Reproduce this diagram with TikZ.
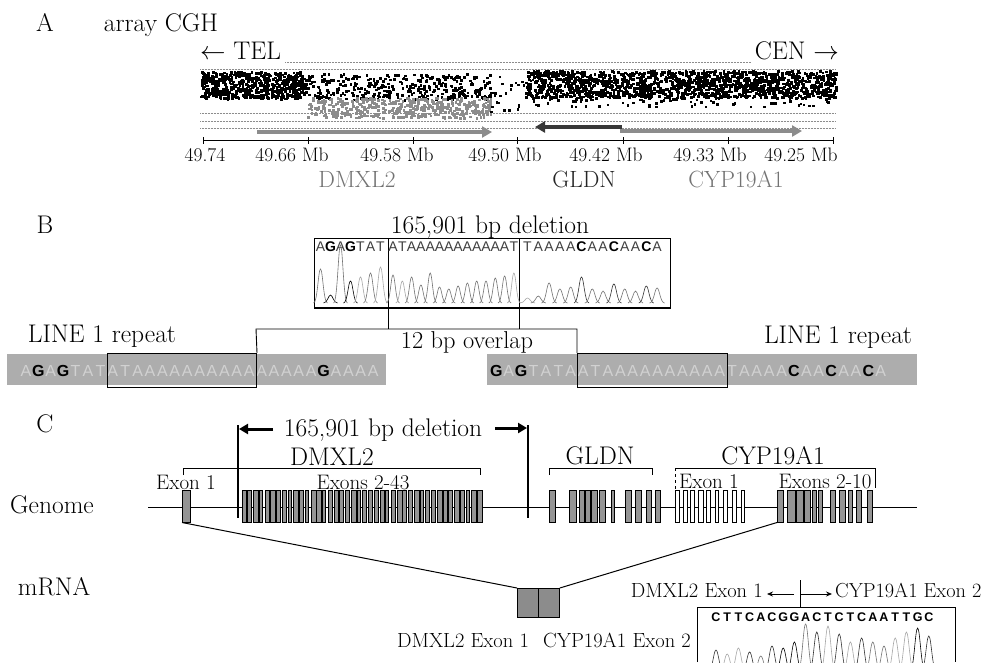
\RequirePackage{fix-cm}
\documentclass[tikz,border=0pt]{standalone}
\usepackage{fontspec}
\setsansfont{Liberation Sans}
\usetikzlibrary{arrows.meta}
\newcommand\fsz[1]{\fontsize{#1}{#1}\selectfont}
\newcommand\seqbf[1]{\ifcsname boldnuc#1\endcsname\bfseries\fi}
\expandafter\def\csname boldnucG\endcsname{}
\expandafter\def\csname boldnucC\endcsname{}
\colorlet{boxA}{black!75}\colorlet{boxT}{black!75}\colorlet{boxG}{black}\colorlet{boxC}{black}
\colorlet{barA}{black!18}\colorlet{barT}{black!18}\colorlet{barG}{black}\colorlet{barC}{black}
\colorlet{pkA}{black!55}\colorlet{pkT}{black!35}\colorlet{pkG}{black}\colorlet{pkC}{black!80}
\begin{document}
\begin{tikzpicture}[x=1pt,y=-1pt,
 txt/.style={inner sep=0pt, anchor=base},
 big/.style={txt, font=\fsz{25.5}},
 gname/.style={txt, font=\fsz{23.5}},
 ticklbl/.style={txt, font=\fsz{19.5}},
 exlbl/.style={txt, font=\fsz{21}},
 gridl/.style={draw=black!45, line width=0.5pt, densely dotted},
 genearrow/.style={line width=3.6pt, -{Triangle[length=10pt,width=11pt]}},
 seqboxtxt/.style={txt, font=\sffamily\fsz{14}},
 seqbartxt/.style={txt, font=\sffamily\fsz{16}},
 seqcrtxt/.style={txt, font=\sffamily\bfseries\fsz{12.5}},
 seqbarbg/.style={fill=black!32, draw=none, inner sep=0pt, minimum height=31pt, anchor=north west},
 ovbox/.style={draw=black, line width=1pt, inner sep=0pt, minimum height=34pt, anchor=north west},
 boxframe/.style={draw=black, line width=1pt, inner sep=0pt, anchor=north west},
 brk/.style={line width=0.8pt},
 exon/.style={draw=black, fill=black!42, line width=0.5pt},
 exonw/.style={draw=black, fill=white, line width=0.6pt},
 exnode/.style={exon, inner sep=0pt, minimum height=32pt, anchor=north west},
 delline/.style={line width=2.4pt},
 delarrow/.style={line width=3pt, -{Triangle[length=9pt,width=10pt]}},
 conn/.style={line width=1pt},
 smallarr/.style={line width=0.8pt, -{Stealth[length=6pt,width=5pt]}},
 peak/.style={line width=0.6pt},
]
\useasboundingbox (0,0) rectangle (985,662);
\fill[white] (0,0) rectangle (985,662);

% ================= Panel A =================
\node[big] (labA) at (45,31) {A};
\node[big] (cgh) at (161,31) {array CGH};
\node[big, anchor=base west] (tel) at (200,59) {$\leftarrow$ TEL};
\node[big, anchor=base east] (cen) at (839,59) {CEN $\rightarrow$};
\draw[gridl] (tel.base east) ++(4,3) -- ([xshift=-4pt,yshift=-3pt]cen.base west);
\foreach \yy in {69,113,121,128} \draw[gridl] (200,\yy) -- (836,\yy);

\pgfmathsetseed{4711}
\foreach \i in {1,...,560} \fill[black] ({200+105*rnd},{71+27*rnd}) rectangle +(2.7,2.7);
\foreach \i in {1,...,340} \fill[black] ({305+185*rnd},{73+26*rnd}) rectangle +(2.7,2.7);
\foreach \i in {1,...,430} \fill[black!45] ({307+183*rnd},{97+20*rnd}) rectangle +(2.7,2.7);
\foreach \i in {1,...,22} \fill[black] ({490+35*rnd},{72+40*rnd}) rectangle +(2.5,2.5);
\foreach \i in {1,...,1500} \fill[black] ({525+311*rnd},{70+27*rnd}) rectangle +(2.7,2.7);
\foreach \i in {1,...,80} \fill[black] ({525+311*rnd},{96+10*rnd}) rectangle +(2.5,2.5);

\coordinate (axL) at (203,140); \coordinate (axR) at (833,140);
\draw[line width=1pt] (axL) -- (axR);
\foreach \xx in {203,308,413,517,623,728,833} \draw[line width=0.8pt] (\xx,137) -- (\xx,144);
\foreach \xx/\lab [count=\i] in {205/49.74, 292/49.66 Mb, 397/49.58 Mb, 505/49.50 Mb, 606/49.42 Mb, 710/49.33 Mb, 801/49.25 Mb}
  \node[ticklbl] (tk\i) at (\xx,161) {\lab};

\coordinate (dA1) at (257,132); \coordinate (dA2) at (492,132);
\coordinate (gA1) at (622,127); \coordinate (gA2) at (535,127);
\coordinate (cA1) at (620,131); \coordinate (cA2) at (802,131);
\draw[genearrow, draw=black!45] (dA1) -- (dA2);
\draw[genearrow, draw=black!78, line width=4.5pt] (gA1) -- (gA2);
\draw[genearrow, draw=black!45] (cA1) -- (cA2);
\node[gname, text=black!55] (gnD) at (357,187) {DMXL2};
\node[gname, text=black!85] (gnG) at (584,187) {GLDN};
\node[gname, text=black!55] (gnC) at (736,187) {CYP19A1};

% ================= Panel B =================
\node[big] (labB) at (45,233) {B};
\node[big] (delB) at (490,233) {165,901 bp deletion};
\node[boxframe, minimum width=356pt, minimum height=69pt] (chromB) at (314,238) {};
\draw[line width=2pt] (chromB.south west) -- (chromB.south east);
\coordinate (d1t) at (388,238); \coordinate (d1b) at (388,329);
\coordinate (d2t) at (519,238); \coordinate (d2b) at (519,329);
\draw[line width=0.9pt] (d1t) -- (d1b);
\draw[line width=0.9pt] (d2t) -- (d2b);

% sequence + peaks in the box
\foreach \nuc/\pkh [count=\i] in {A/34,G/8,A/58,G/22,T/26,A/30,T/36} {
  \pgfmathsetmacro\px{320.5+10*(\i-1)}
  \node[seqboxtxt, text=box\nuc] (sa\i) at (\px,251) {\seqbf{\nuc}\nuc};
  \draw[peak, draw=pk\nuc] ({\px-7},303) .. controls ({\px-3},303) and ({\px-2.2},{303-\pkh}) .. ({\px},{303-\pkh}) .. controls ({\px+2.2},{303-\pkh}) and ({\px+3},303) .. ({\px+7},303);
}
\foreach \nuc/\pkh [count=\i] in {A/28,T/22,A/26,A/18,A/30,A/16,A/14,A/17,A/20,A/22,A/22,A/25,A/27,T/30} {
  \pgfmathsetmacro\px{393+9.3*(\i-1)}
  \node[seqboxtxt, text=box\nuc] (sb\i) at (\px,251) {\seqbf{\nuc}\nuc};
  \draw[peak, draw=pk\nuc] ({\px-6.5},303) .. controls ({\px-2.8},303) and ({\px-2},{303-\pkh}) .. ({\px},{303-\pkh}) .. controls ({\px+2},{303-\pkh}) and ({\px+2.8},303) .. ({\px+6.5},303);
}
\foreach \nuc/\pkh [count=\i] in {T/5,A/7,A/20,A/14,A/16,C/26,A/14,A/12,C/19,A/14,A/12,C/17,A/15} {
  \pgfmathsetmacro\px{527.5+10.8*(\i-1)}
  \node[seqboxtxt, text=box\nuc] (sc\i) at (\px,251) {\seqbf{\nuc}\nuc};
  \draw[peak, draw=pk\nuc] ({\px-7.5},303) .. controls ({\px-3.2},303) and ({\px-2.3},{303-\pkh}) .. ({\px},{303-\pkh}) .. controls ({\px+2.3},{303-\pkh}) and ({\px+3.2},303) .. ({\px+7.5},303);
}

\node[big] (lineL) at (102,342) {LINE 1 repeat};
\node[big] (lineR) at (838,343) {LINE 1 repeat};
\node[txt, font=\fsz{24.4}] (ovl) at (467,348) {12 bp overlap};

\node[seqbarbg, minimum width=379pt] (barL) at (7,354) {};
\node[seqbarbg, minimum width=430pt] (barR) at (487,354) {};
\foreach \nuc [count=\i] in {A,G,A,G,T,A,T,A,T,A,A,A,A,A,A,A,A,A,A,A,A,A,A,A,G,A,A,A,A}
  \node[seqbartxt, text=bar\nuc] (ql\i) at ({26+12.4*(\i-1)},376) {\seqbf{\nuc}\nuc};
\foreach \nuc [count=\i] in {G,A,G,T,A,T,A,A,T,A,A,A,A,A,A,A,A,A,A,T,A,A,A,A,C,A,A,C,A,A,C,A}
  \node[seqbartxt, text=bar\nuc] (qr\i) at ({496.4+12.4*(\i-1)},376) {\seqbf{\nuc}\nuc};
\node[ovbox, minimum width=149pt] (ovL) at (107,353) {};
\node[ovbox, minimum width=150pt] (ovR) at (577,353) {};
\coordinate (hl) at (256,329); \coordinate (hr) at (577,329);
\draw[line width=0.9pt] (ovL.north east) -- (hl) -- (hr) -- (ovR.north west);

% ================= Panel C =================
\node[big] (labC) at (45,432) {C};
\node[big] (delC) at (383,436) {165,901 bp deletion};
\coordinate (vlT) at (238,425); \coordinate (vlB) at (238,518);
\coordinate (vrT) at (528,425); \coordinate (vrB) at (528,518);
\draw[delline] (vlT) -- (vlB);
\draw[delline] (vrT) -- (vrB);
\coordinate (alS) at (273,429); \coordinate (alE) at (239,429);
\coordinate (arS) at (495,428); \coordinate (arE) at (527,428);
\draw[delarrow] (alS) -- (alE);
\draw[delarrow] (arS) -- (arE);

\node[big] (gD) at (332,465) {DMXL2};
\node[big] (gG) at (600,464) {GLDN};
\node[big] (gC) at (773,464) {CYP19A1};
\draw[brk] (183,475) -- (183,468) -- (480,468) -- (480,475);
\draw[brk] (549,475) -- (549,468) -- (652,468) -- (652,475);
\draw[brk] (675,468) -- (875,468) -- (875,488);
\draw[brk, dashed] (675,468) -- (675,490);
\node[exlbl] (ex1D) at (186,489) {Exon 1};
\node[exlbl] (ex2D) at (363,489) {Exons 2-43};
\node[exlbl] (ex1C) at (709,488) {Exon 1};
\node[exlbl] (ex2C) at (825,488) {Exons 2-10};

\node[big] (genome) at (52,513) {Genome};
\node[big] (mrna) at (54,595) {mRNA};

\draw[line width=0.8pt] (148,507) -- (917,507);
\node[exnode, minimum width=8pt] (dex1) at (182,490) {};
\foreach \w [count=\i] in {4.2,3.4,4.6,3.2,4.0,5.0,3.6,4.2,3.0,4.6,4.0,3.4,5.0,4.2,3.2,4.0,4.6,3.6,4.0,5.0,3.2,4.2,3.6,4.6,4.0,3.2,4.2,5.0,3.6,4.0,4.6,3.2,4.0,3.6,5.0,4.2,3.2,4.6,4.0,3.6,4.2,4.6}
  \draw[exon] ({242+5.74*(\i-1)},490) rectangle ++(\w,32);
\foreach \a/\b in {549/555,569/576,579/584,585/590,591/597,599/605,611/614,625/631,635/641,646/651,655/660}
  \draw[exon] (\a,490) rectangle (\b,522);
\foreach \a/\b in {675/679,683/687,690/694,698/703,706/710,715/718,723/727,732/736,741/744}
  \draw[exonw] (\a,490) rectangle (\b,522);
\node[exnode, minimum width=6pt] (cex2) at (777,490) {};
\foreach \a/\b in {787/795,796/803,804/810,812/816,818/822,830/835,839/845,848/852,856/861,867/872}
  \draw[exon] (\a,490) rectangle (\b,522);

\node[exnode, minimum width=21pt, minimum height=29pt, fill=black!45, line width=0.8pt] (mL) at (517,588) {};
\node[exnode, minimum width=21pt, minimum height=29pt, fill=black!45, line width=0.8pt] (mR) at (538,588) {};
\draw[conn] (dex1.south west) -- (mL.north west);
\draw[conn] (cex2.south west) -- (mR.north east);
\node[txt, font=\fsz{20.5}] (mlabD) at (463,647) {DMXL2 Exon 1};
\node[txt, font=\fsz{20.5}] (mlabC) at (617,647) {CYP19A1 Exon 2};

% junction chromatogram
\node[txt, font=\fsz{20.5}, anchor=base east] (jD) at (763,597) {DMXL2 Exon 1};
\node[txt, font=\fsz{20.3}, anchor=base west] (jC) at (835,597) {CYP19A1 Exon 2};
\coordinate (jTop) at (800,580); \coordinate (jBot) at (800,607);
\draw[line width=0.8pt] (jTop) -- (jBot);
\coordinate (jl1) at (794,594); \coordinate (jl2) at (767,594);
\coordinate (jr1) at (801,594); \coordinate (jr2) at (832,594);
\draw[smallarr] (jl1) -- (jl2);
\draw[smallarr] (jr1) -- (jr2);
\draw[line width=1pt] (697,662) -- (697,607) -- (955,607) -- (955,662);
\begin{scope}
\clip (697,607) rectangle (955,662);
\foreach \nuc/\pkh [count=\i] in {C/22,T/18,T/24,C/20,A/16,C/26,G/24,G/30,A/48,C/40,T/46,C/38,T/30,C/34,A/30,A/26,T/34,T/40,G/44,C/36} {
  \pgfmathsetmacro\px{716+11.2*(\i-1)}
  \draw[peak, draw=pk\nuc] ({\px-8},672) .. controls ({\px-3.5},672) and ({\px-2.5},{672-\pkh}) .. ({\px},{672-\pkh}) .. controls ({\px+2.5},{672-\pkh}) and ({\px+3.5},672) .. ({\px+8},672);
}
\end{scope}
\foreach \nuc [count=\i] in {C,T,T,C,A,C,G,G,A,C,T,C,T,C,A,A,T,T,G,C}
  \node[seqcrtxt] (jq\i) at ({716+11.2*(\i-1)},621) {\nuc};
\end{tikzpicture}
\end{document}
